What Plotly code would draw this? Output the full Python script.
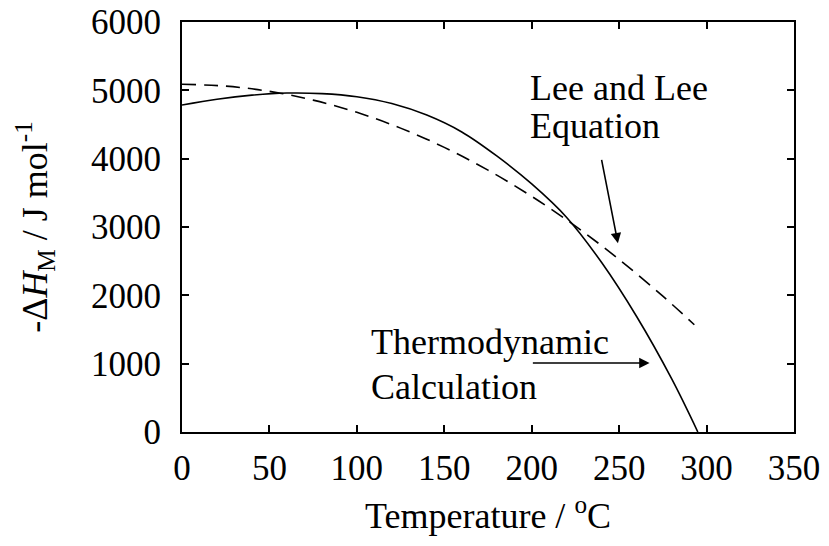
import plotly.graph_objects as go

# Thermodynamic calculation (solid)
thermo_T = [0, 20, 40, 60, 80, 100, 120, 140, 160, 180, 200, 220, 240, 260, 280, 295]
thermo_H = [4785, 4870, 4930, 4960, 4952, 4907, 4807, 4638, 4391, 4040, 3630, 3140, 2480, 1690, 780, 0]

# Lee and Lee equation (dashed)
lee_T = [0, 25, 50, 75, 100, 125, 150, 175, 200, 225, 250, 275, 293]
lee_H = [5088, 5062, 4985, 4857, 4678, 4447, 4165, 3832, 3448, 3012, 2525, 1987, 1570]

x_ticks = [0, 50, 100, 150, 200, 250, 300, 350]
y_ticks = [0, 1000, 2000, 3000, 4000, 5000, 6000]

FONT = "Liberation Serif"

fig = go.Figure()
fig.add_trace(go.Scatter(x=thermo_T, y=thermo_H, mode="lines",
                         line=dict(color="black", width=1.6, shape="spline"),
                         showlegend=False, hoverinfo="skip"))
fig.add_trace(go.Scatter(x=lee_T, y=lee_H, mode="lines",
                         line=dict(color="black", width=1.6, dash="14px,8px", shape="spline"),
                         showlegend=False, hoverinfo="skip"))

axis_common = dict(showline=True, linecolor="black", linewidth=2, mirror="allticks",
                   ticks="inside", ticklen=7, tickwidth=2, tickcolor="black",
                   showgrid=False, zeroline=False, automargin=False,
                   tickfont=dict(family=FONT, size=35, color="black"))

fig.update_xaxes(range=[0, 350], tickvals=x_ticks, ticktext=[str(v) for v in x_ticks],
                 title=dict(text="Temperature / <sup>o</sup>C",
                            font=dict(family=FONT, size=36, color="black"), standoff=16),
                 ticklabelstandoff=4,
                 **axis_common)
fig.update_yaxes(range=[0, 6000], tickvals=y_ticks, ticktext=[str(v) for v in y_ticks],
                 title=dict(text="-Δ<i>H</i><sub>M</sub> / J mol<sup>-1</sup>",
                            font=dict(family=FONT, size=36, color="black"), standoff=32),
                 ticklabelstandoff=12,
                 **axis_common)

ann_font = dict(family=FONT, size=36, color="black")


def label(text, px, py):
    return dict(x=px, y=py, xref="paper", yref="paper", text=text, showarrow=False,
                xanchor="left", yanchor="middle", align="left", font=ann_font)


annotations = [
    label("Lee and Lee", 0.5655, 0.840),
    label("Equation", 0.5655, 0.746),
    label("Thermodynamic", 0.3055, 0.220),
    label("Calculation", 0.3055, 0.110),
    dict(x=249.3, y=2761, ax=239.8, ay=4005, xref="x", yref="y", axref="x", ayref="y",
         text="", showarrow=True, arrowhead=2, arrowsize=1.3, arrowwidth=1.6, arrowcolor="black"),
    dict(x=267.4, y=1010, ax=199.8, ay=1010, xref="x", yref="y", axref="x", ayref="y",
         text="", showarrow=True, arrowhead=2, arrowsize=1.3, arrowwidth=1.6, arrowcolor="black"),
]

fig.update_layout(width=829, height=546, margin=dict(l=182, r=35, t=22, b=114),
                  plot_bgcolor="white", paper_bgcolor="white",
                  annotations=annotations)

# remove the browser's default 8px body margin so the figure sits at the page corner
fig.write_html("out.html", config={"displayModeBar": False},
               post_script="document.body.style.margin='0';document.body.style.overflow='hidden';")
